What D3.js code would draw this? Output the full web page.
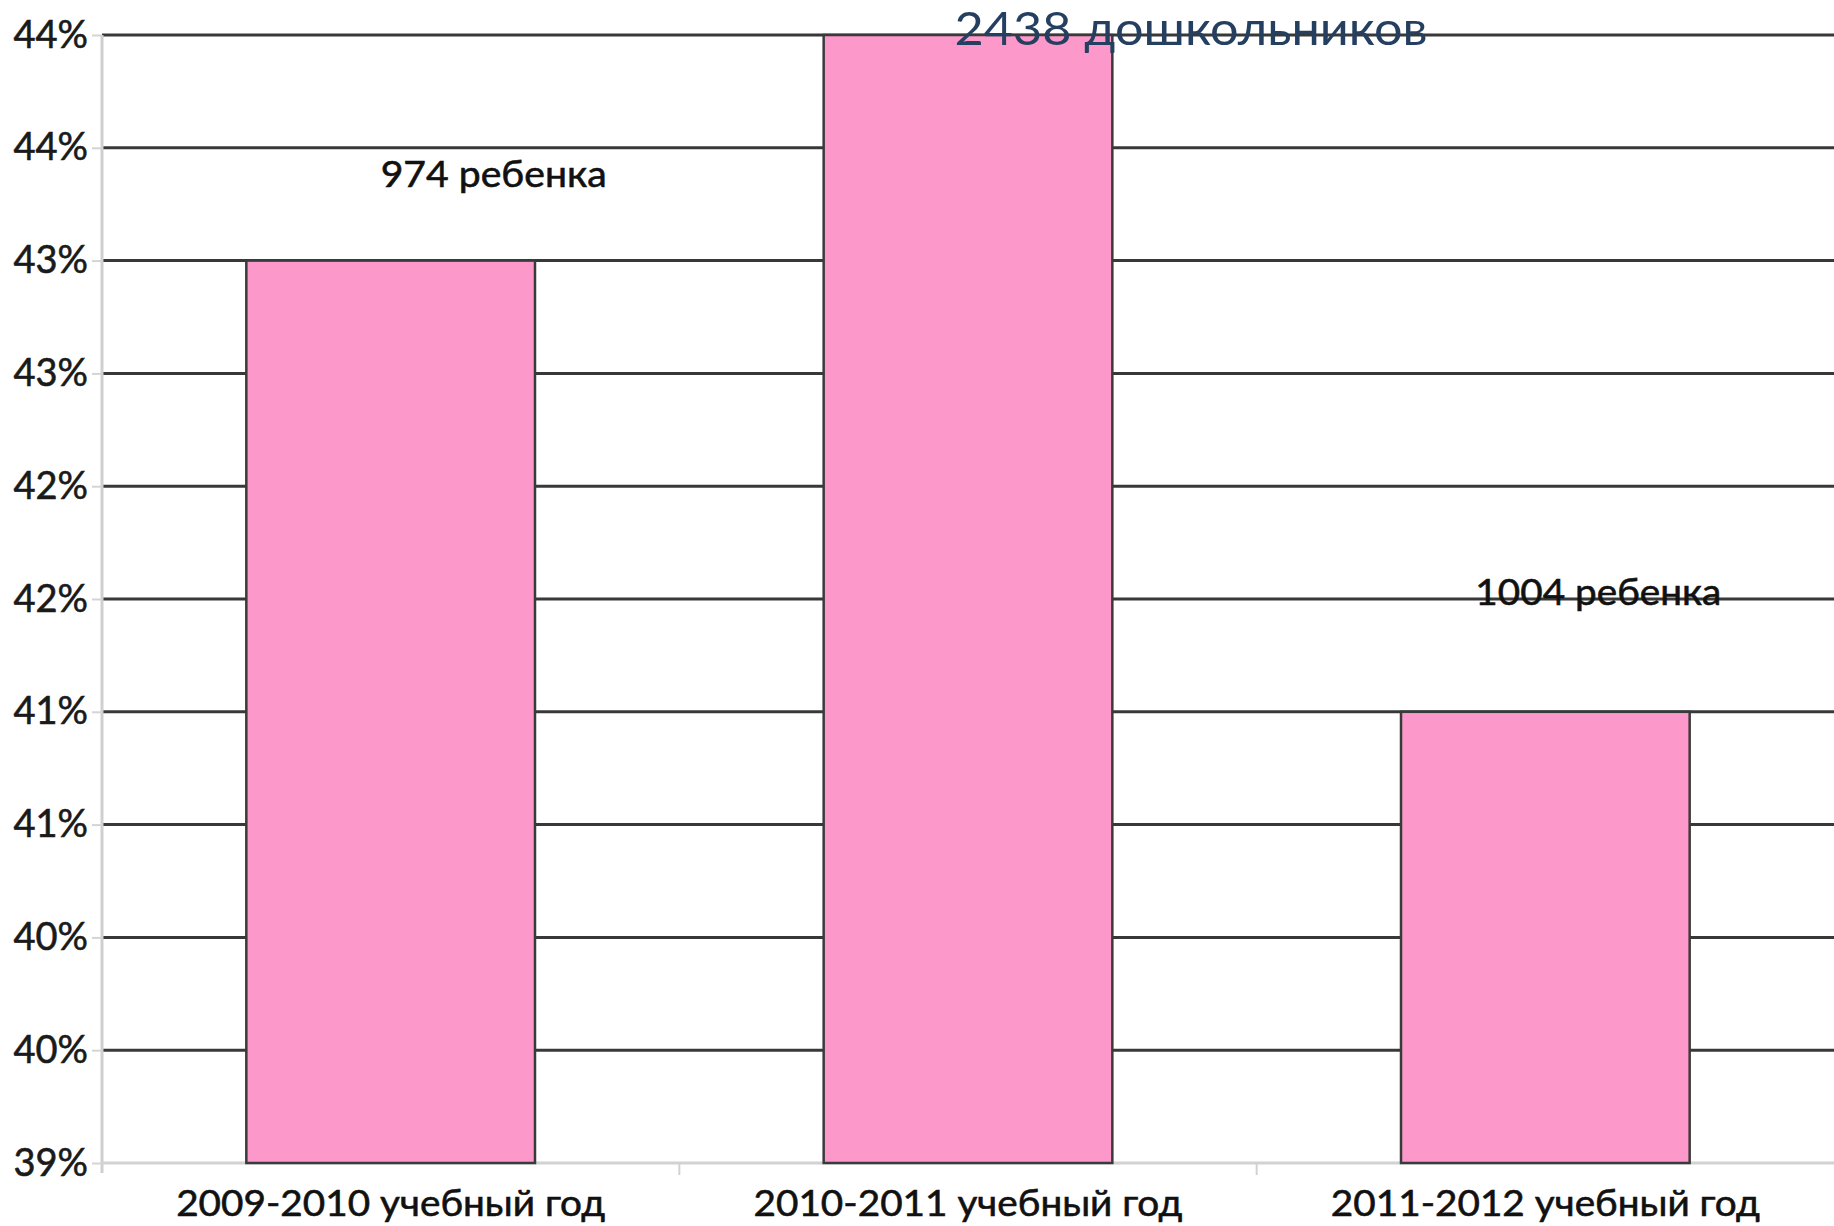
<!DOCTYPE html>
<html>
<head>
<meta charset="utf-8">
<script src="https://cdn.jsdelivr.net/npm/d3@7"></script>
<style>
  body { margin: 0; background: #fff; }
  svg { display: block; font-family: "Lato", "Noto Sans", sans-serif; }
</style>
</head>
<body>
<svg id="chart"></svg>
<script>
const WIDTH = 1834
const HEIGHT = 1226
const MARGIN = { left: 102, top: 35, right: 0, bottom: 63 }

// data
const categories = ["2009-2010 учебный год", "2010-2011 учебный год", "2011-2012 учебный год"]
const values = [43, 44, 41]
const notes = ["974 ребенка", "2438 дошкольников", "1004 ребенка"]
const yTicks = [39, 39.5, 40, 40.5, 41, 41.5, 42, 42.5, 43, 43.5, 44]

const svg = d3.select("#chart")
  .attr("width", WIDTH)
  .attr("height", HEIGHT)

const x = d3.scaleBand()
  .domain(categories)
  .range([MARGIN.left, WIDTH - MARGIN.right])
  .paddingInner(0.5)
  .paddingOuter(0.25)

const y = d3.scaleLinear()
  .domain([39, 44])
  .range([HEIGHT - MARGIN.bottom, MARGIN.top])

// gridlines (skip the baseline, it is the light axis)
svg.append("g")
  .selectAll("line")
  .data(yTicks.filter(d => d > 39))
  .enter()
  .append("line")
    .attr("x1", MARGIN.left)
    .attr("x2", WIDTH - MARGIN.right)
    .attr("y1", d => y(d))
    .attr("y2", d => y(d))
    .attr("stroke", "#383838")
    .attr("stroke-width", 3)

// y axis
let yAxis = d3.axisLeft(y)
  .tickValues(yTicks)
  .tickSize(10)
  .tickPadding(4)
  .tickFormat(v => Math.round(v) + "%")

let yg = svg.append("g")
  .attr("transform", `translate(${MARGIN.left},0)`)
  .call(yAxis)
yg.select(".domain")
  .attr("d", `M0,${MARGIN.top}V${y(39) + 10}`)
  .attr("stroke", "#cfcfcf")
  .attr("stroke-width", 3)
yg.selectAll(".tick line").attr("stroke", "#d4d4d4").attr("stroke-width", 2)
yg.selectAll(".tick text")
  .attr("font-size", 38)
  .attr("fill", "#1a1a1a")
  .attr("stroke", "#1a1a1a")
  .attr("stroke-width", 0.6)
  .attr("font-family", "Lato")

// bottom axis
svg.append("line")
  .attr("x1", MARGIN.left)
  .attr("x2", WIDTH)
  .attr("y1", y(39))
  .attr("y2", y(39))
  .attr("stroke", "#d2d2d2")
  .attr("stroke-width", 3)

// category separators
svg.append("g")
  .selectAll("line")
  .data(categories.slice(1))
  .enter()
  .append("line")
    .attr("x1", d => x(d) - x.step() * x.paddingInner() / 2)
    .attr("x2", d => x(d) - x.step() * x.paddingInner() / 2)
    .attr("y1", y(39))
    .attr("y2", y(39) + 12)
    .attr("stroke", "#d2d2d2")
    .attr("stroke-width", 2)

// category labels
svg.append("g")
  .selectAll("text")
  .data(categories)
  .enter()
  .append("text")
    .attr("x", d => x(d) + x.bandwidth() / 2)
    .attr("y", y(39) + 53)
    .attr("text-anchor", "middle")
    .attr("font-size", 37)
    .attr("fill", "#111")
    .attr("stroke", "#111")
    .attr("stroke-width", 0.6)
    .attr("textLength", 429)
    .attr("lengthAdjust", "spacingAndGlyphs")
    .text(d => d)

// bars
svg.append("g")
  .selectAll("rect")
  .data(values)
  .enter()
  .append("rect")
    .attr("x", (d, i) => x(categories[i]))
    .attr("y", d => y(d))
    .attr("width", x.bandwidth())
    .attr("height", d => y(39) - y(d))
    .attr("fill", "#fd98ca")
    .attr("stroke", "#3a3a3a")
    .attr("stroke-width", 2.5)

// bar notes
const noteDx = [103, 223, 53]
const noteDy = [-74, 10, -107]
const noteLen = [226, 473, 246]
svg.append("g")
  .selectAll("text")
  .data(notes)
  .enter()
  .append("text")
    .attr("x", (d, i) => x(categories[i]) + x.bandwidth() / 2 + noteDx[i])
    .attr("y", (d, i) => y(values[i]) + noteDy[i])
    .attr("text-anchor", "middle")
    .attr("font-size", (d, i) => i == 1 ? 47 : 37)
    .attr("fill", (d, i) => i == 1 ? "#243f60" : "#111")
    .attr("stroke", (d, i) => i == 1 ? "none" : "#111")
    .attr("stroke-width", 0.6)
    .attr("textLength", (d, i) => noteLen[i])
    .attr("lengthAdjust", "spacingAndGlyphs")
    .text(d => d)
</script>
</body>
</html>
